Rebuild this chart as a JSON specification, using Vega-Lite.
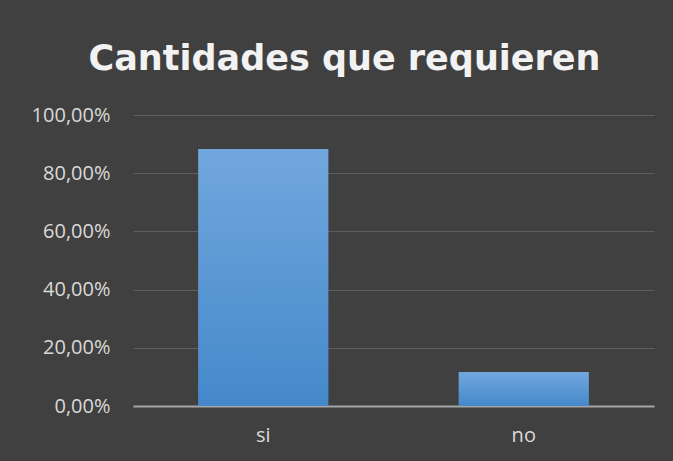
{
  "$schema": "https://vega.github.io/schema/vega-lite/v6.json",
  "width": 521,
  "height": 291,
  "autosize": {"type": "none"},
  "padding": {"left": 133, "top": 115, "right": 19, "bottom": 55},
  "background": "#404040",
  "title": {
    "text": "Cantidades que requieren",
    "font": "DejaVu Sans",
    "fontSize": 35,
    "fontWeight": "bold",
    "color": "#f2f2f2",
    "anchor": "middle",
    "dx": -49,
    "offset": 28
  },
  "data": {
    "values": [
      {"respuesta": "si", "porcentaje": 0.883},
      {"respuesta": "no", "porcentaje": 0.117}
    ]
  },
  "mark": {
    "type": "bar",
    "color": {
      "gradient": "linear",
      "x1": 0, "y1": 0, "x2": 0, "y2": 1,
      "stops": [
        {"offset": 0, "color": "#71a7dd"},
        {"offset": 1, "color": "#4589cb"}
      ]
    }
  },
  "encoding": {
    "x": {
      "field": "respuesta",
      "type": "nominal",
      "sort": null,
      "scale": {"paddingInner": 0.5, "paddingOuter": 0.25},
      "axis": {
        "title": null,
        "labelAngle": 0,
        "labelFont": "Open Sans",
        "labelFontSize": 20,
        "labelColor": "#d9d9d9",
        "labelPadding": 19,
        "ticks": false,
        "domainColor": "#a6a6a6",
        "domainWidth": 2
      }
    },
    "y": {
      "field": "porcentaje",
      "type": "quantitative",
      "scale": {"domain": [0, 1]},
      "axis": {
        "title": null,
        "values": [0, 0.2, 0.4, 0.6, 0.8, 1],
        "labelExpr": "replace(format(datum.value, '.2%'), '.', ',')",
        "labelFont": "Open Sans",
        "labelFontSize": 20,
        "labelColor": "#d9d9d9",
        "labelPadding": 23,
        "ticks": false,
        "domain": false,
        "gridColor": "#5e5e5e",
        "gridWidth": 1
      }
    }
  },
  "config": {
    "view": {"stroke": null}
  }
}
